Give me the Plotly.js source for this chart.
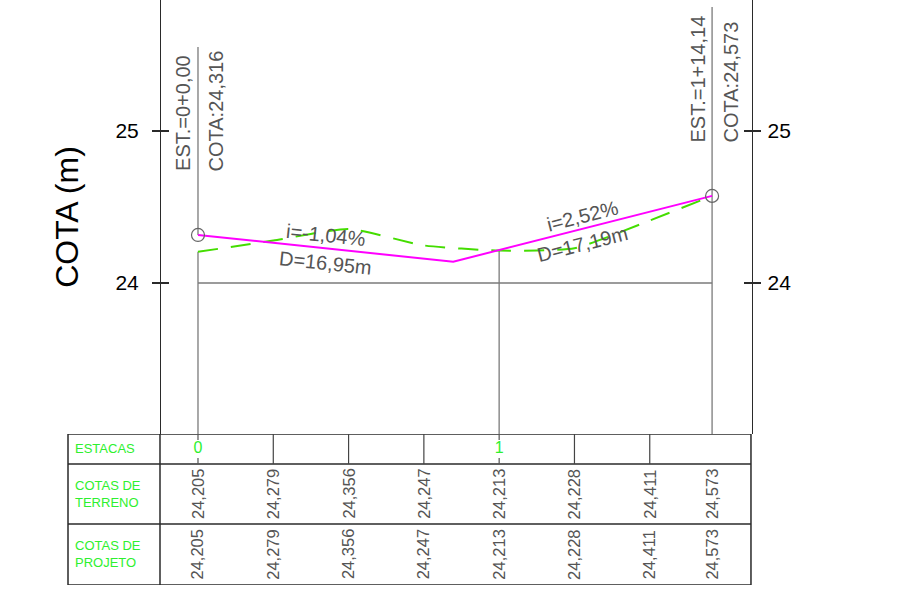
<!DOCTYPE html>
<html><head><meta charset="utf-8">
<script src="https://cdn.plot.ly/plotly-3.0.1.min.js"></script>
<style>html,body{margin:0;padding:0;background:#fff}</style>
</head><body><div id="chart" style="width:900px;height:604px"></div>
<script>
// ---- data ----
const distances = [0, 5, 10, 15, 20, 25, 30, 34.14];
const terrainElev = [24.205, 24.279, 24.356, 24.247, 24.213, 24.228, 24.411, 24.573];
const projectTableElev = [24.205, 24.279, 24.356, 24.247, 24.213, 24.228, 24.411, 24.573];
const gradeX = [0, 16.95, 34.14];
const gradeY = [24.316, 24.140, 24.573];
const gradeSlopeLabels = ["i=-1,04%", "i=2,52%"];
const gradeLengthLabels = ["D=16,95m", "D=17,19m"];
const stationX = [0, 20];
const stationNames = ["0", "1"];
const endStationX = [0, 34.14];
const endStationElev = [24.316, 24.573];
const endStationLabels = ["EST.=0+0,00", "EST.=1+14,14"];
const endCotaLabels = ["COTA:24,316", "COTA:24,573"];
const rowLabels = ["ESTACAS", "COTAS DE<br>TERRENO", "COTAS DE<br>PROJETO"];
const yTicks = [24, 25];
const yTickText = ["24", "25"];

// ---- layout constants ----
const FONT = "Liberation Sans, Arial, sans-serif";
const GRAY_TXT = "#555555";
const GREEN_TXT = "#2ef02e";
const LINE_DARK = "#2a2a2a";
const ST_LINE = "#8c8c8c";
const X_RANGE = [-8.632, 36.79];
const Y_RANGE = [23.0066, 25.8618];
const Y_DOMAIN = [0.25812, 1];
const T_RANGE = [0, 151];           // table sub-axis (px-like units)
const ROW_EDGES = [151, 121, 61, 0];
const ROW_CENTERS = [136, 91, 30.5];
const AXIS_POS = 0.1345;            // left elevation axis position in paper
const PLOT_W = 684, PLOT_H = 585;
const pxPerX = PLOT_W / (X_RANGE[1] - X_RANGE[0]);
const pxPerY = PLOT_H * (Y_DOMAIN[1] - Y_DOMAIN[0]) / (Y_RANGE[1] - Y_RANGE[0]);
const labelTop = [25.553, 25.816];  // top of station leader lines
const labelShiftX = [[-15, 18], [-14, 19]];
const labelShiftY = [62, 51];

const fmt = v => v.toFixed(3).replace('.', ',');

const traces = [
  { x: distances, y: terrainElev, xaxis: 'x', yaxis: 'y', mode: 'lines',
    line: { color: '#44dd00', width: 2, dash: '20px,13px', shape: 'spline', smoothing: 0.5 },
    hoverinfo: 'skip', showlegend: false },
  { x: gradeX, y: gradeY, xaxis: 'x', yaxis: 'y3', mode: 'lines',
    line: { color: '#ff00ff', width: 2 }, hoverinfo: 'skip', showlegend: false },
  { x: endStationX, y: endStationElev, xaxis: 'x', yaxis: 'y4', mode: 'markers',
    marker: { symbol: 'circle-open', size: 13, color: '#666', line: { width: 1.2, color: '#666' } },
    hoverinfo: 'skip', showlegend: false },
  { x: [Y_RANGE[0]], y: [Y_RANGE[0]], xaxis: 'x', yaxis: 'y5', mode: 'markers',
    marker: { opacity: 0 }, hoverinfo: 'skip', showlegend: false },
  { x: stationX, y: stationX.map(() => ROW_CENTERS[0]), xaxis: 'x', yaxis: 'y2', mode: 'text',
    text: stationNames, textposition: 'middle center',
    textfont: { family: FONT, size: 16, color: GREEN_TXT }, hoverinfo: 'skip', showlegend: false }
];

const shapes = [];
const stLine = { color: ST_LINE, width: 1.5 };
endStationX.forEach((x, i) => {
  shapes.push({ type: 'line', xref: 'x', yref: 'y', x0: x, x1: x, y0: labelTop[i], y1: endStationElev[i], line: stLine, layer: 'below' });
});
stationX.concat([distances[distances.length - 1]]).forEach(x => {
  const k = distances.indexOf(x);
  shapes.push({ type: 'line', xref: 'x', yref: 'y', x0: x, x1: x, y0: terrainElev[k], y1: Y_RANGE[0], line: stLine, layer: 'below' });
});
shapes.push({ type: 'line', xref: 'x', yref: 'y', x0: distances[0], x1: distances[distances.length - 1], y0: yTicks[0], y1: yTicks[0], line: { color: '#7a7a7a', width: 1.5 }, layer: 'below' });
const tl = { color: LINE_DARK, width: 1.5 };
shapes.push({ type: 'rect', xref: 'paper', yref: 'y2', x0: 0, x1: 0.9985, y0: T_RANGE[0], y1: T_RANGE[1], line: tl });
ROW_EDGES.slice(1, 3).forEach(y => shapes.push({ type: 'line', xref: 'paper', yref: 'y2', x0: 0, x1: 0.9985, y0: y, y1: y, line: tl }));
shapes.push({ type: 'line', xref: 'paper', yref: 'y2', x0: AXIS_POS, x1: AXIS_POS, y0: T_RANGE[0], y1: T_RANGE[1], line: tl });
distances.slice(1, -1).forEach(x => {
  if (stationX.indexOf(x) >= 0) return;
  shapes.push({ type: 'line', xref: 'x', yref: 'y2', x0: x, x1: x, y0: ROW_EDGES[1], y1: ROW_EDGES[0], line: { color: '#444', width: 1.2 } });
});
stationX.forEach(x => {
  shapes.push({ type: 'line', xref: 'x', yref: 'y2', x0: x, x1: x, y0: ROW_EDGES[0], y1: ROW_EDGES[0] - 6, line: { color: '#555', width: 1.2 } });
  shapes.push({ type: 'line', xref: 'x', yref: 'y2', x0: x, x1: x, y0: ROW_EDGES[1] + 6, y1: ROW_EDGES[1], line: { color: '#555', width: 1.2 } });
});

const annotations = [];
for (let i = 0; i < gradeX.length - 1; i++) {
  const mx = (gradeX[i] + gradeX[i + 1]) / 2, my = (gradeY[i] + gradeY[i + 1]) / 2;
  const slope = (gradeY[i + 1] - gradeY[i]) / (gradeX[i + 1] - gradeX[i]);
  const ang = -Math.atan(slope * pxPerY / pxPerX) * 180 / Math.PI;
  const f = { family: FONT, size: 20, color: GRAY_TXT };
  annotations.push({ x: mx, y: my, xref: 'x', yref: 'y', text: gradeSlopeLabels[i], showarrow: false, textangle: ang, yshift: 13, font: f });
  annotations.push({ x: mx, y: my, xref: 'x', yref: 'y', text: gradeLengthLabels[i], showarrow: false, textangle: ang, yshift: -15, font: f });
}
endStationX.forEach((x, i) => {
  const f = { family: FONT, size: 20, color: GRAY_TXT };
  annotations.push({ x: x, y: endStationElev[i], xref: 'x', yref: 'y', text: endStationLabels[i], showarrow: false, textangle: -90, yanchor: 'bottom', xshift: labelShiftX[i][0], yshift: labelShiftY[i], font: f });
  annotations.push({ x: x, y: endStationElev[i], xref: 'x', yref: 'y', text: endCotaLabels[i], showarrow: false, textangle: -90, yanchor: 'bottom', xshift: labelShiftX[i][1], yshift: labelShiftY[i], font: f });
});
distances.forEach((x, i) => {
  const f = { family: FONT, size: 16.5, color: GRAY_TXT };
  annotations.push({ x: x, y: ROW_CENTERS[1], xref: 'x', yref: 'y2', text: fmt(terrainElev[i]), showarrow: false, textangle: -90, font: f });
  annotations.push({ x: x, y: ROW_CENTERS[2], xref: 'x', yref: 'y2', text: fmt(projectTableElev[i]), showarrow: false, textangle: -90, font: f });
});
rowLabels.forEach((t, i) => {
  annotations.push({ x: 0.008, y: ROW_CENTERS[i], xref: 'paper', yref: 'y2', xanchor: 'left', align: 'left', text: t, showarrow: false, font: { family: FONT, size: 13, color: GREEN_TXT } });
});

const yBase = { range: Y_RANGE, tickvals: yTicks, ticktext: yTickText, showgrid: false, zeroline: false, fixedrange: true, tickcolor: LINE_DARK, tickwidth: 1.3, ticklen: 8 };

const layout = {
  width: 900, height: 604,
  margin: { l: 68, r: 148, t: 0, b: 19, pad: 0 },
  paper_bgcolor: '#fff', plot_bgcolor: 'rgba(0,0,0,0)',
  font: { family: FONT, color: '#000' },
  showlegend: false,
  xaxis: { range: X_RANGE, domain: [0, 1], anchor: 'y', showgrid: false, zeroline: false, showticklabels: false, ticks: '', showline: false, fixedrange: true },
  yaxis: Object.assign({}, yBase, { domain: Y_DOMAIN, anchor: 'free', position: AXIS_POS, side: 'left', showline: true, linecolor: LINE_DARK, linewidth: 1.3, ticks: 'outside', ticklabelstandoff: 9, tickfont: { family: FONT, size: 21, color: '#000' },
    title: { text: 'COTA (m)', font: { family: FONT, size: 32, color: '#000' }, standoff: 26 } }),
  yaxis3: Object.assign({}, yBase, { overlaying: 'y', anchor: 'free', position: AXIS_POS, side: 'left', ticks: 'inside', showticklabels: false, showline: false }),
  yaxis4: Object.assign({}, yBase, { overlaying: 'y', anchor: 'x', side: 'right', showline: true, linecolor: LINE_DARK, linewidth: 1.3, ticks: 'outside', ticklabelstandoff: 2, tickfont: { family: FONT, size: 21, color: '#000' } }),
  yaxis5: Object.assign({}, yBase, { overlaying: 'y', anchor: 'x', side: 'right', ticks: 'inside', showticklabels: false, showline: false }),
  yaxis2: { domain: [0, Y_DOMAIN[0]], range: T_RANGE, anchor: 'x', visible: false, fixedrange: true },
  shapes: shapes,
  annotations: annotations
};

Plotly.newPlot('chart', traces, layout, { staticPlot: true, displayModeBar: false });
</script>
</body></html>
